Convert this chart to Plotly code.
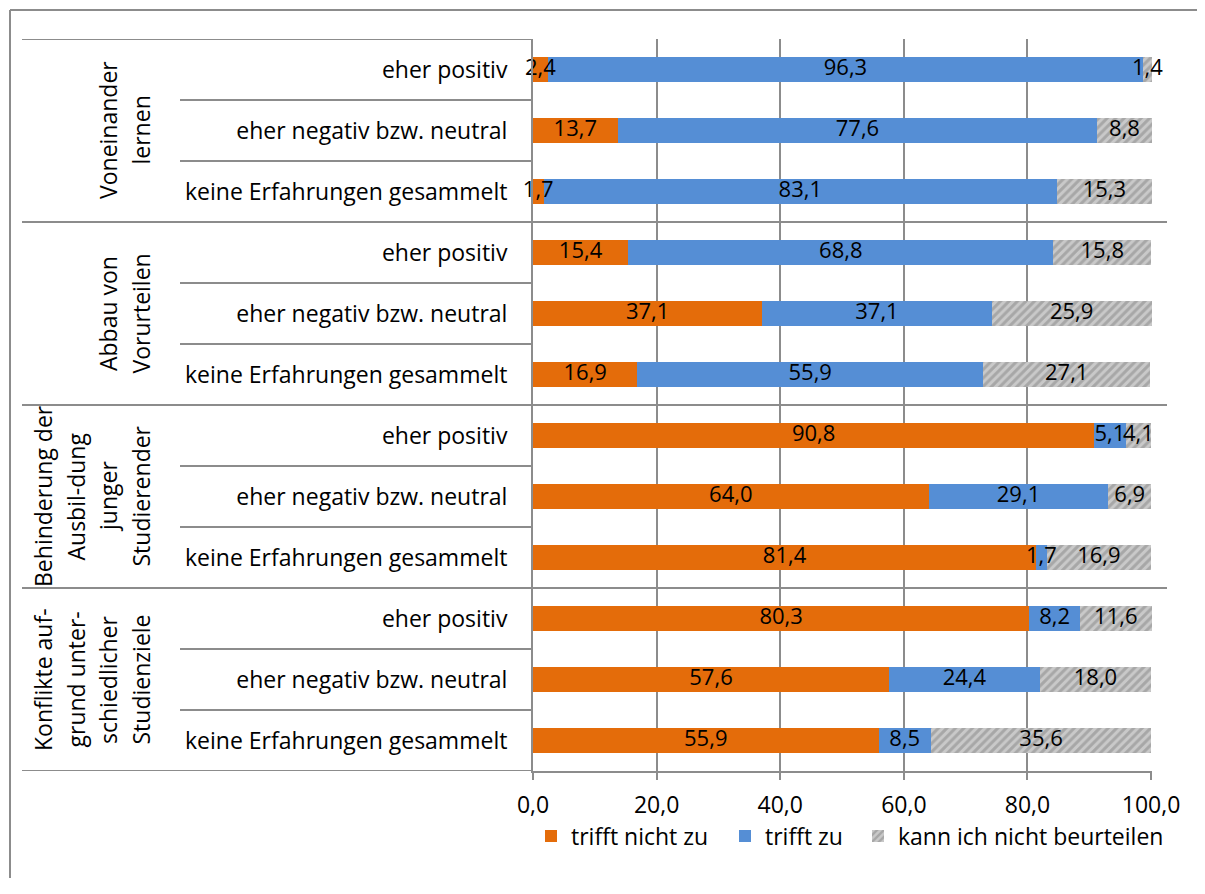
import plotly.graph_objects as go

groups = [
    ["Voneinander", "lernen"],
    ["Abbau von", "Vorurteilen"],
    ["Behinderung der", "Ausbil-dung", "junger", "Studierender"],
    ["Konflikte auf-", "grund unter-", "schiedlicher", "Studienziele"],
]
rows = ["eher positiv", "eher negativ bzw. neutral", "keine Erfahrungen gesammelt"]

trifft_nicht_zu = [2.4, 13.7, 1.7, 15.4, 37.1, 16.9, 90.8, 64.0, 81.4, 80.3, 57.6, 55.9]
trifft_zu = [96.3, 77.6, 83.1, 68.8, 37.1, 55.9, 5.1, 29.1, 1.7, 8.2, 24.4, 8.5]
kann_nicht = [1.4, 8.8, 15.3, 15.8, 25.9, 27.1, 4.1, 6.9, 16.9, 11.6, 18.0, 35.6]

series = ["trifft nicht zu", "trifft zu", "kann ich nicht beurteilen"]

FONT = "Open Sans"
FS = 23
GRID = "#8c8c8c"

# page has an 8px body margin; everything below is in page pixels.
# the figure is made wider than the window so its right edge stays out of view
OFF = 8
W, H = 1300, 870
L, R, T, B = 533, 1152, 39, 771


def px(x):
    return (x - L) / (R - L)


def py(y):
    return (B - y) / (B - T)


labels = rows * len(groups)
ypos = list(range(len(labels)))

fig = go.Figure()
colors = ["#E46C0A", "#558ED5", None]
legend_ids = ["legend", "legend2", "legend3"]
base = [0.0] * len(labels)
mids = []
for name, vals, col, lg in zip(series, [trifft_nicht_zu, trifft_zu, kann_nicht], colors, legend_ids):
    if col is None:
        marker = dict(color="#c4c4c4",
                      pattern=dict(shape="/", fgcolor="#858585", bgcolor="#c9c9c9",
                                   size=6, solidity=0.5),
                      line=dict(width=0))
    else:
        marker = dict(color=col, line=dict(width=0))
    fig.add_trace(go.Bar(x=vals, y=ypos, orientation="h", name=name, marker=marker,
                         legend=lg, hoverinfo="x+name"))
    mids.append([b + v / 2 for b, v in zip(base, vals)])
    base = [b + v for b, v in zip(base, vals)]

# data labels on top of all bars
for vals, mid in zip([trifft_nicht_zu, trifft_zu, kann_nicht], mids):
    fig.add_trace(go.Scatter(
        x=mid, y=ypos, customdata=vals, mode="text", texttemplate="%{customdata:.1f}",
        textfont=dict(family=FONT, size=22, color="black"),
        showlegend=False, hoverinfo="skip", cliponaxis=False,
    ))

GW = 2
shapes = [
    # outer frame (left and top edges, the rest lies outside the picture)
    dict(type="line", xref="paper", yref="paper", x0=px(10), x1=px(1300),
         y0=py(10), y1=py(10), line=dict(color=GRID, width=GW)),
    dict(type="line", xref="paper", yref="paper", x0=px(10), x1=px(10),
         y0=py(10), y1=py(1000), line=dict(color=GRID, width=GW)),
]
for yb in [-0.5, len(labels) - 0.5]:
    shapes.append(dict(type="line", xref="paper", yref="y", x0=px(22), x1=0,
                       y0=yb, y1=yb, line=dict(color=GRID, width=GW)))
n = len(rows)
for g in range(len(groups)):
    if g > 0:
        yb = g * n - 0.5
        shapes.append(dict(type="line", xref="paper", yref="y", x0=px(22), x1=px(1167),
                           y0=yb, y1=yb, line=dict(color=GRID, width=GW)))
    for k in range(1, n):
        yb = g * n + k - 0.5
        shapes.append(dict(type="line", xref="paper", yref="y", x0=px(180), x1=0,
                           y0=yb, y1=yb, line=dict(color=GRID, width=GW)))

annotations = []
for g, lines in enumerate(groups):
    yc = g * n + (n - 1) / 2
    m = len(lines)
    for i, line in enumerate(lines):
        xc = 140 - 32.5 * (m - 1 - i)
        annotations.append(dict(
            text=line, xref="paper", yref="y", x=px(xc), y=yc,
            xanchor="center", yanchor="middle", textangle=-90, showarrow=False,
            font=dict(family=FONT, size=FS, color="black"),
        ))

legend_style = dict(orientation="h", yanchor="middle", xanchor="left", y=py(836),
                    bgcolor="rgba(0,0,0,0)", font=dict(family=FONT, size=FS, color="black"),
                    itemwidth=30)

fig.update_layout(
    width=W, height=H,
    margin=dict(l=L - OFF, r=W - (R - OFF), t=T - OFF, b=H - (B - OFF)),
    paper_bgcolor="white", plot_bgcolor="white",
    barmode="stack", bargap=0.6,
    separators=", ",
    font=dict(family=FONT, size=FS, color="black"),
    xaxis=dict(range=[0, 100.15], tickvals=[0, 20, 40, 60, 80, 100], tickformat=".1f",
               showgrid=True, gridcolor=GRID, gridwidth=GW,
               showline=True, linecolor=GRID, linewidth=GW,
               ticks="outside", ticklen=7, tickcolor=GRID, tickwidth=GW,
               zeroline=False, ticklabelstandoff=5,
               tickfont=dict(family=FONT, size=FS, color="black")),
    yaxis=dict(range=[len(labels) - 0.5, -0.5], tickvals=ypos, ticktext=labels,
               showgrid=False, zeroline=False,
               showline=True, linecolor=GRID, linewidth=GW,
               ticks="", ticklabelstandoff=19,
               tickfont=dict(family=FONT, size=FS, color="black")),
    legend=dict(legend_style, x=px(531)),
    legend2=dict(legend_style, x=px(725)),
    legend3=dict(legend_style, x=px(858)),
    shapes=shapes,
    annotations=annotations,
)

fig.write_html("out.html")
